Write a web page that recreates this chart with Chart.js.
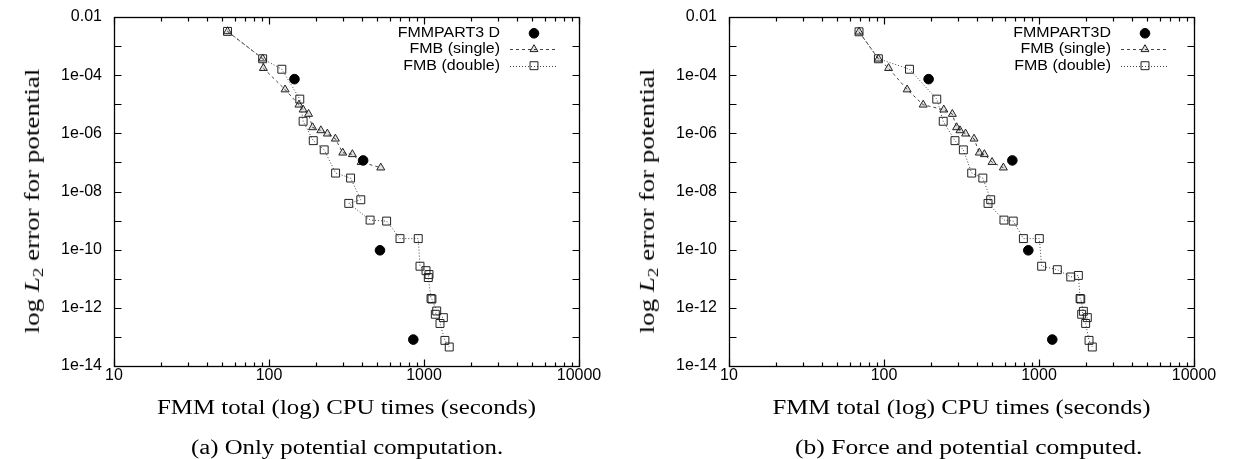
<!DOCTYPE html>
<html>
<head>
<meta charset="utf-8">
<script src="https://cdn.jsdelivr.net/npm/chart.js@4.4.0/dist/chart.umd.min.js"></script>
<style>
  body { margin: 0; background: #fff; width: 1235px; height: 459px; position: relative; overflow: hidden; }
  canvas { position: absolute; top: 0; }
  .lbl { position: absolute; font-family: "Liberation Serif", serif; font-size: 20px; line-height: 1; white-space: nowrap; color: #000; transform-origin: center center; }
  .lbl sub { font-size: 14px; vertical-align: -4px; line-height: 0; }
</style>
</head>
<body>
<canvas id="chartA" width="615" height="459" style="left:0"></canvas>
<canvas id="chartB" width="615" height="459" style="left:615px"></canvas>

<div class="lbl" id="ytA">log <i>L</i><sub>2</sub> error for potential</div>
<div class="lbl" id="ytB">log <i>L</i><sub>2</sub> error for potential</div>
<div class="lbl" id="xtA">FMM total (log) CPU times (seconds)</div>
<div class="lbl" id="xtB">FMM total (log) CPU times (seconds)</div>
<div class="lbl" id="capA">(a) Only potential computation.</div>
<div class="lbl" id="capB">(b) Force and potential computed.</div>

<script>
// axis ticks
const xTickValues = [10, 100, 1000, 10000];
const xTickLabels = ['10', '100', '1000', '10000'];
const yTickValues = [1e-2, 1e-3, 1e-4, 1e-5, 1e-6, 1e-7, 1e-8, 1e-9, 1e-10, 1e-11, 1e-12, 1e-13, 1e-14];
const yTickLabels = ['0.01', '', '1e-04', '', '1e-06', '', '1e-08', '', '1e-10', '', '1e-12', '', '1e-14'];

// (a) only potential computation
const aPartX = [146, 405, 520, 853];
const aPartY = [7.3e-5, 1.17e-7, 9.5e-11, 8.1e-14];
const aSingleX = [54, 91, 92, 127, 156, 166, 180, 191, 216, 238, 268, 299, 345, 393, 526];
const aSingleY = [3.2e-3, 3.7e-4, 1.74e-4, 3.2e-5, 9.6e-6, 6.5e-6, 4.6e-6, 1.6e-6, 1.26e-6, 9.7e-7, 6.5e-7, 2.15e-7, 1.9e-7, 1.02e-7, 6.6e-8];
const aDoubleX = [54, 91, 121, 158, 166, 193, 227, 269, 336, 391, 327, 449, 574, 700, 918, 942, 1030, 1077, 1066, 1110, 1125, 1208, 1183, 1333, 1268, 1364, 1455];
const aDoubleY = [3.2e-3, 3.66e-4, 1.6e-4, 1.5e-5, 2.6e-6, 5.6e-7, 2.7e-7, 4.3e-8, 2.9e-8, 5.2e-9, 3.9e-9, 1.04e-9, 9.6e-10, 2.4e-10, 2.4e-10, 2.7e-11, 1.9e-11, 1.4e-11, 1.1e-11, 2.1e-12, 2.0e-12, 7.8e-13, 6e-13, 4.6e-13, 2.9e-13, 7.6e-14, 4.5e-14];

// (b) force and potential computed
const bPartX = [194, 673, 853, 1218];
const bPartY = [7.3e-5, 1.17e-7, 9.5e-11, 8.1e-14];
const bSingleX = [69, 92, 107, 141, 179, 243, 276, 294, 309, 336, 381, 412, 444, 498, 589];
const bSingleY = [3.1e-3, 3.66e-4, 1.74e-4, 3.2e-5, 9.6e-6, 6.5e-6, 4.6e-6, 1.6e-6, 1.26e-6, 9.7e-7, 6.5e-7, 2.15e-7, 1.9e-7, 1.02e-7, 6.6e-8];
const bDoubleX = [69, 92, 146, 219, 241, 287, 325, 368, 434, 488, 469, 594, 682, 793, 1005, 1040, 1313, 1603, 1795, 1841, 1860, 1933, 1885, 2050, 2000, 2103, 2208];
const bDoubleY = [3.1e-3, 3.66e-4, 1.6e-4, 1.5e-5, 2.6e-6, 5.6e-7, 2.7e-7, 4.3e-8, 2.9e-8, 5.2e-9, 3.9e-9, 1.04e-9, 9.6e-10, 2.4e-10, 2.4e-10, 2.7e-11, 2.05e-11, 1.15e-11, 1.3e-11, 2.1e-12, 2.0e-12, 7.6e-13, 6e-13, 4.6e-13, 2.9e-13, 7.6e-14, 4.5e-14];

const seriesNames = {
  a: ['FMMPART3 D', 'FMB (single)', 'FMB (double)'],
  b: ['FMMPART3D', 'FMB (single)', 'FMB (double)']
};

function pts(xs, ys) {
  return xs.map((x, i) => ({ x: x, y: ys[i] }));
}

const styles = [
  { pointStyle: 'circle', radius: 4.8, fill: '#000', stroke: '#000', dash: null },
  { pointStyle: 'triangle', radius: 4.6, fill: 'rgba(0,0,0,0.12)', stroke: '#222', dash: [3, 3] },
  { pointStyle: 'rect', radius: 5.6, fill: 'rgba(0,0,0,0)', stroke: '#222', dash: [1, 2] }
];

const tickFont = { family: '"Liberation Sans", Arial, sans-serif', size: 16 };

// frame with inward ticks, mirrored on all sides
const framePlugin = {
  id: 'frame',
  beforeDatasetsDraw(chart) {
    const { ctx, chartArea: a, scales } = chart;
    const x = scales.x, y = scales.y;
    const L = Math.round(a.left) + 0.5, R = Math.round(a.right) + 0.5;
    const T = Math.round(a.top) + 0.5, B = Math.round(a.bottom) + 0.5;
    ctx.save();
    ctx.strokeStyle = '#000';
    ctx.lineWidth = 1.2;
    ctx.beginPath();
    for (let d = 1; d <= 4; d++) {
      for (let m = 1; m <= 9; m++) {
        const v = m * Math.pow(10, d);
        if (v > x.max) break;
        const px = Math.round(x.getPixelForValue(v)) + 0.5;
        const len = m === 1 ? 7 : 4;
        ctx.moveTo(px, B); ctx.lineTo(px, B - len);
        ctx.moveTo(px, T); ctx.lineTo(px, T + len);
      }
    }
    yTickValues.forEach(v => {
      const py = Math.round(y.getPixelForValue(v)) + 0.5;
      ctx.moveTo(L, py); ctx.lineTo(L + 7, py);
      ctx.moveTo(R, py); ctx.lineTo(R - 7, py);
    });
    ctx.stroke();
    ctx.lineWidth = 1.3;
    ctx.strokeRect(L, T, R - L, B - T);
    ctx.restore();
  }
};

// gnuplot-like key: text right-aligned, sample to the right
const keyPlugin = {
  id: 'key',
  afterDraw(chart, args, opts) {
    const { ctx } = chart;
    const rows = [33.3, 49.3, 65.7];
    chart.data.datasets.forEach((ds, i) => {
      const st = styles[i];
      const yy = rows[i];
      ctx.save();
      ctx.fillStyle = '#000';
      ctx.font = '14px "Liberation Sans", Arial, sans-serif';
      ctx.textAlign = 'right';
      ctx.textBaseline = 'middle';
      ctx.translate(opts.textRight, yy);
      ctx.scale(1.14, 1);
      ctx.fillText(ds.label, 0, 0);
      ctx.restore();
      ctx.save();
      if (st.dash) {
        ctx.strokeStyle = '#444';
        ctx.lineWidth = 1;
        ctx.setLineDash(st.dash);
        ctx.beginPath();
        ctx.moveTo(opts.sampleLeft, Math.round(yy) + 0.5);
        ctx.lineTo(opts.sampleLeft + 47, Math.round(yy) + 0.5);
        ctx.stroke();
        ctx.setLineDash([]);
      }
      ctx.fillStyle = st.fill;
      ctx.strokeStyle = st.stroke;
      ctx.lineWidth = 1;
      Chart.helpers.drawPoint(ctx, { pointStyle: st.pointStyle, radius: st.radius, rotation: 0, borderWidth: 1 },
        opts.sampleLeft + 24, yy);
      ctx.restore();
    });
  }
};

function makePanel(id, names, part, single, dbl, key) {
  const data = [part, single, dbl];
  return new Chart(document.getElementById(id), {
    type: 'scatter',
    data: {
      datasets: data.map((d, i) => ({
        label: names[i],
        data: d,
        showLine: i > 0,
        borderColor: i > 0 ? '#444' : '#000',
        borderWidth: 1,
        borderDash: styles[i].dash || [],
        pointStyle: styles[i].pointStyle,
        pointRadius: styles[i].radius,
        pointBackgroundColor: styles[i].fill,
        pointBorderColor: styles[i].stroke,
        pointBorderWidth: 1,
        tension: 0
      }))
    },
    options: {
      responsive: false,
      animation: false,
      events: [],
      layout: { padding: { left: 0, right: 36, top: 17, bottom: 0 } },
      plugins: {
        legend: { display: false },
        tooltip: { enabled: false },
        key: key
      },
      scales: {
        x: {
          type: 'logarithmic',
          min: 10, max: 10000,
          grid: { display: false, drawTicks: false },
          border: { display: false },
          afterBuildTicks(s) { s.ticks = xTickValues.map(v => ({ value: v })); },
          afterFit(s) { s.height = 93; s.paddingLeft = 0; s.paddingRight = 0; },
          ticks: {
            autoSkip: false, maxRotation: 0, padding: 0, color: '#000',
            font: tickFont,
            callback: (v) => xTickLabels[xTickValues.indexOf(v)]
          }
        },
        y: {
          type: 'logarithmic',
          min: 1e-14, max: 1e-2,
          grid: { display: false, drawTicks: false },
          border: { display: false },
          afterBuildTicks(s) { s.ticks = yTickValues.map(v => ({ value: v })); },
          // keep the frame at the reference box, labels may overflow the padding
          afterFit(s) { s.width = 114; s.paddingTop = 0; s.paddingBottom = 0; },
          ticks: {
            autoSkip: false, padding: 12, color: '#000',
            font: tickFont,
            callback: (v) => {
              const i = yTickValues.findIndex(t => Math.abs(Math.log10(t) - Math.log10(v)) < 1e-6);
              return i >= 0 ? yTickLabels[i] : '';
            }
          }
        }
      }
    },
    plugins: [framePlugin, keyPlugin]
  });
}

makePanel('chartA', seriesNames.a, pts(aPartX, aPartY), pts(aSingleX, aSingleY), pts(aDoubleX, aDoubleY),
  { textRight: 500, sampleLeft: 510 });
makePanel('chartB', seriesNames.b, pts(bPartX, bPartY), pts(bSingleX, bSingleY), pts(bDoubleX, bDoubleY),
  { textRight: 496, sampleLeft: 506 });

// place serif labels, stretched to the width they take in the figure
function place(id, cx, cy, w, rot) {
  const el = document.getElementById(id);
  const nw = el.offsetWidth, nh = el.offsetHeight;
  el.style.left = (cx - nw / 2) + 'px';
  el.style.top = (cy - nh / 2) + 'px';
  el.style.transform = (rot ? 'rotate(-90deg) ' : '') + 'scaleX(' + (w / nw) + ')';
}
place('ytA', 32, 201, 265, true);
place('ytB', 647, 201, 265, true);
place('xtA', 346.5, 406.7, 379);
place('xtB', 961, 406.7, 378);
place('capA', 347, 447.3, 312);
place('capB', 969, 447.3, 348);
</script>
</body>
</html>
